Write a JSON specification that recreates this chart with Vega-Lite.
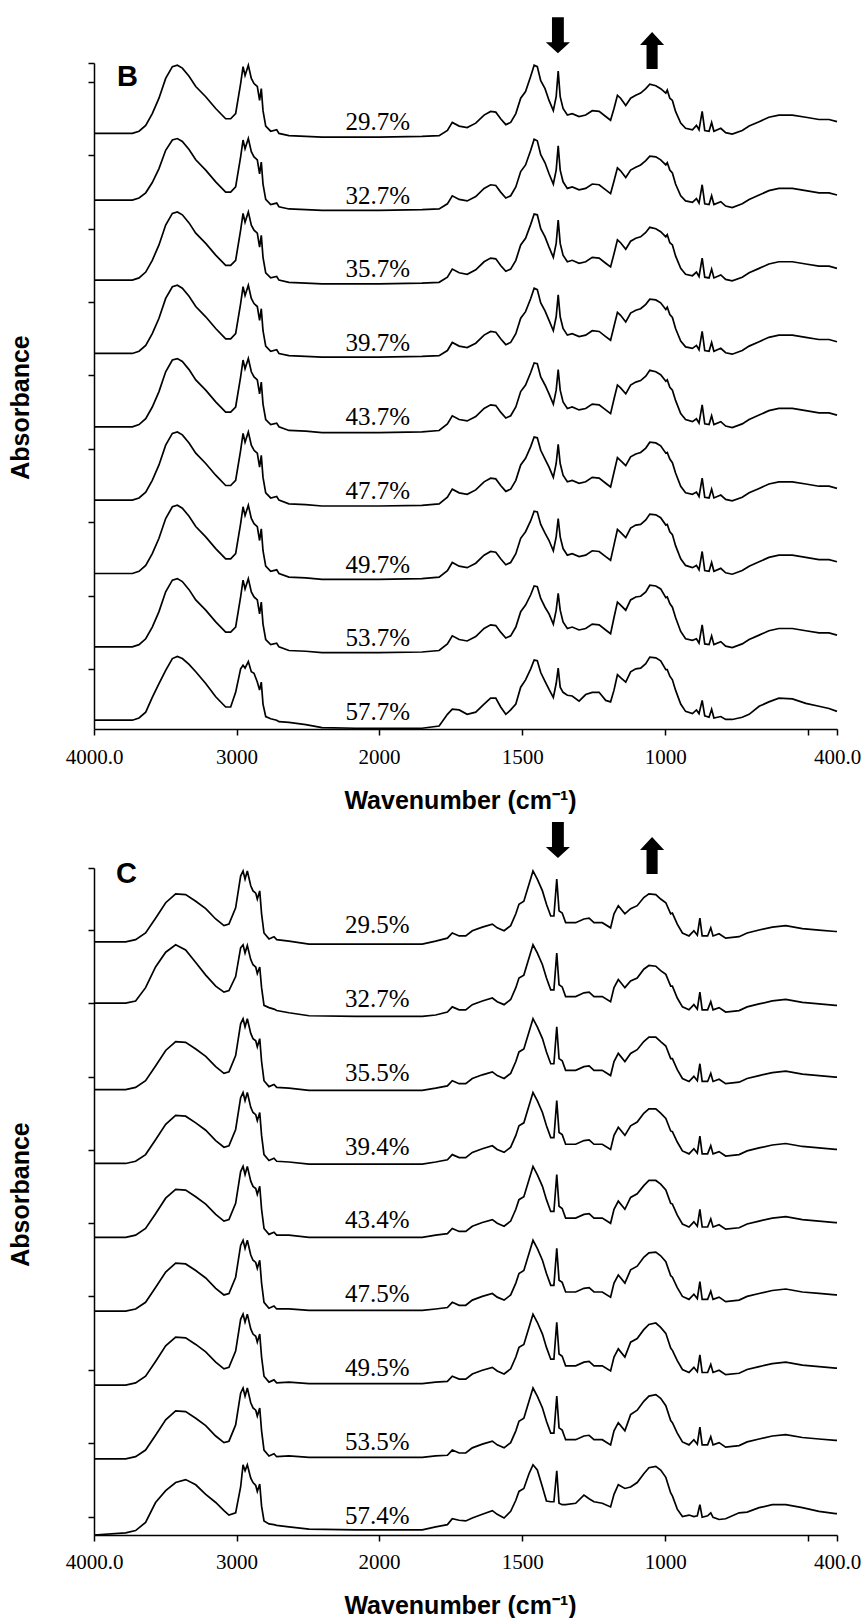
{
"$schema":"https://vega.github.io/schema/vega-lite/v6.json",
"background":"white",
"padding":{"left":8,"top":17,"right":0,"bottom":0},
"spacing":139,
"bounds":"flush",
"config":{"view":{"stroke":null},"axis":{"domainColor":"black","tickColor":"black","domainWidth":1.5,"tickWidth":1.5,"labelColor":"black","titleColor":"black","grid":false}},
"datasets":{
"specB":[
{"x":4000,"s1":800,"s2":709,"s3":600,"s4":500,"s5":400,"s6":300,"s7":200,"s8":100,"s9":0},
{"x":3731,"s1":800,"s2":709,"s3":600,"s4":500,"s5":400,"s6":300,"s7":200,"s8":100,"s9":0},
{"x":3684,"s1":803,"s2":712,"s3":603,"s4":503,"s5":403,"s6":303,"s7":203,"s8":103,"s9":3},
{"x":3637,"s1":811,"s2":719,"s3":611,"s4":511,"s5":411,"s6":311,"s7":211,"s8":111,"s9":11},
{"x":3591,"s1":827,"s2":733,"s3":627,"s4":527,"s5":427,"s6":327,"s7":227,"s8":127,"s9":31},
{"x":3544,"s1":848,"s2":752,"s3":648,"s4":548,"s5":448,"s6":348,"s7":248,"s8":148,"s9":50},
{"x":3497,"s1":875,"s2":777,"s3":675,"s4":575,"s5":475,"s6":375,"s7":275,"s8":175,"s9":68},
{"x":3450,"s1":891,"s2":791,"s3":691,"s4":591,"s5":491,"s6":391,"s7":291,"s8":191,"s9":84},
{"x":3415,"s1":893,"s2":793,"s3":693,"s4":593,"s5":493,"s6":393,"s7":293,"s8":193,"s9":87},
{"x":3380,"s1":889,"s2":789,"s3":689,"s4":589,"s5":489,"s6":389,"s7":289,"s8":189,"s9":84},
{"x":3333,"s1":878,"s2":778,"s3":678,"s4":578,"s5":478,"s6":378,"s7":278,"s8":178,"s9":76},
{"x":3286,"s1":864,"s2":764,"s3":664,"s4":564,"s5":464,"s6":364,"s7":264,"s8":164,"s9":66},
{"x":3216,"s1":850,"s2":750,"s3":650,"s4":550,"s5":450,"s6":350,"s7":250,"s8":150,"s9":50},
{"x":3146,"s1":834,"s2":734,"s3":634,"s4":534,"s5":434,"s6":334,"s7":234,"s8":134,"s9":32},
{"x":3076,"s1":820,"s2":720,"s3":620,"s4":520,"s5":420,"s6":320,"s7":220,"s8":120,"s9":18},
{"x":3041,"s1":820,"s2":720,"s3":620,"s4":520,"s5":420,"s6":320,"s7":220,"s8":120,"s9":18},
{"x":3006,"s1":827,"s2":727,"s3":627,"s4":527,"s5":427,"s6":327,"s7":227,"s8":127,"s9":38},
{"x":2971,"s1":868,"s2":768,"s3":668,"s4":568,"s5":468,"s6":368,"s7":268,"s8":168,"s9":70},
{"x":2954,"s1":891,"s2":791,"s3":691,"s4":591,"s5":491,"s6":391,"s7":291,"s8":191,"s9":75},
{"x":2940,"s1":879,"s2":779,"s3":679,"s4":579,"s5":479,"s6":379,"s7":279,"s8":179,"s9":71},
{"x":2917,"s1":893,"s2":793,"s3":693,"s4":593,"s5":493,"s6":393,"s7":293,"s8":193,"s9":80},
{"x":2896,"s1":875,"s2":775,"s3":675,"s4":575,"s5":475,"s6":375,"s7":275,"s8":175,"s9":66},
{"x":2877,"s1":868,"s2":768,"s3":668,"s4":568,"s5":468,"s6":368,"s7":268,"s8":168,"s9":64},
{"x":2854,"s1":864,"s2":764,"s3":664,"s4":564,"s5":464,"s6":364,"s7":264,"s8":164,"s9":52},
{"x":2838,"s1":845,"s2":745,"s3":645,"s4":545,"s5":445,"s6":345,"s7":245,"s8":145,"s9":41},
{"x":2826,"s1":861,"s2":761,"s3":661,"s4":561,"s5":461,"s6":361,"s7":261,"s8":161,"s9":52},
{"x":2814,"s1":831,"s2":731,"s3":631,"s4":531,"s5":431,"s6":331,"s7":231,"s8":131,"s9":22},
{"x":2795,"s1":810,"s2":710,"s3":610,"s4":510,"s5":410,"s6":310,"s7":210,"s8":110,"s9":5},
{"x":2760,"s1":803,"s2":703,"s3":603,"s4":503,"s5":403,"s6":303,"s7":203,"s8":103,"s9":2},
{"x":2718,"s1":805,"s2":705,"s3":605,"s4":505,"s5":405,"s6":305,"s7":205,"s8":105,"s9":0},
{"x":2702,"s1":800,"s2":700,"s3":600,"s4":500,"s5":400,"s6":300,"s7":200,"s8":100,"s9":-2},
{"x":2632,"s1":797,"s2":697,"s3":597,"s4":497,"s5":395,"s6":295,"s7":195,"s8":95,"s9":-3},
{"x":2514,"s1":796,"s2":696,"s3":596,"s4":496,"s5":394,"s6":294,"s7":194,"s8":94,"s9":-6},
{"x":2400,"s1":795,"s2":695,"s3":595,"s4":495,"s5":392,"s6":292,"s7":192,"s8":92,"s9":-10},
{"x":2163,"s1":795,"s2":695,"s3":595,"s4":495,"s5":392,"s6":292,"s7":192,"s8":92,"s9":-11},
{"x":2000,"s1":795,"s2":695,"s3":595,"s4":495,"s5":392,"s6":292,"s7":192,"s8":92,"s9":-11},
{"x":1850,"s1":796,"s2":696,"s3":596,"s4":496,"s5":393,"s6":293,"s7":193,"s8":93,"s9":-11},
{"x":1790,"s1":797,"s2":697,"s3":597,"s4":497,"s5":395,"s6":295,"s7":195,"s8":95,"s9":-8},
{"x":1761,"s1":804,"s2":704,"s3":604,"s4":504,"s5":404,"s6":304,"s7":204,"s8":104,"s9":8},
{"x":1744,"s1":815,"s2":715,"s3":615,"s4":515,"s5":415,"s6":315,"s7":215,"s8":115,"s9":15},
{"x":1720,"s1":810,"s2":710,"s3":610,"s4":510,"s5":410,"s6":310,"s7":210,"s8":110,"s9":14},
{"x":1692,"s1":808,"s2":708,"s3":608,"s4":508,"s5":408,"s6":308,"s7":208,"s8":108,"s9":8},
{"x":1662,"s1":814,"s2":714,"s3":614,"s4":514,"s5":414,"s6":314,"s7":214,"s8":114,"s9":11},
{"x":1633,"s1":825,"s2":725,"s3":625,"s4":525,"s5":425,"s6":325,"s7":225,"s8":125,"s9":22},
{"x":1610,"s1":830,"s2":730,"s3":630,"s4":530,"s5":430,"s6":330,"s7":230,"s8":130,"s9":30},
{"x":1592,"s1":829,"s2":729,"s3":629,"s4":529,"s5":429,"s6":329,"s7":229,"s8":129,"s9":30},
{"x":1575,"s1":820,"s2":720,"s3":620,"s4":520,"s5":420,"s6":320,"s7":220,"s8":120,"s9":18},
{"x":1557,"s1":812,"s2":712,"s3":612,"s4":512,"s5":412,"s6":312,"s7":212,"s8":112,"s9":8},
{"x":1540,"s1":815,"s2":715,"s3":615,"s4":515,"s5":415,"s6":315,"s7":215,"s8":115,"s9":14},
{"x":1522,"s1":827,"s2":727,"s3":627,"s4":527,"s5":427,"s6":327,"s7":227,"s8":127,"s9":22},
{"x":1505,"s1":848,"s2":748,"s3":648,"s4":548,"s5":448,"s6":348,"s7":248,"s8":148,"s9":45},
{"x":1488,"s1":857,"s2":757,"s3":657,"s4":557,"s5":457,"s6":357,"s7":257,"s8":157,"s9":55},
{"x":1470,"s1":878,"s2":777,"s3":676,"s4":575,"s5":474,"s6":373,"s7":272,"s8":171,"s9":70},
{"x":1458,"s1":893,"s2":792,"s3":690,"s4":589,"s5":487,"s6":386,"s7":285,"s8":183,"s9":82},
{"x":1447,"s1":891,"s2":790,"s3":689,"s4":587,"s5":486,"s6":385,"s7":284,"s8":182,"s9":81},
{"x":1435,"s1":872,"s2":771,"s3":670,"s4":569,"s5":468,"s6":368,"s7":267,"s8":166,"s9":65},
{"x":1420,"s1":861,"s2":760,"s3":659,"s4":558,"s5":457,"s6":356,"s7":255,"s8":154,"s9":53},
{"x":1406,"s1":845,"s2":745,"s3":645,"s4":545,"s5":445,"s6":345,"s7":245,"s8":145,"s9":42},
{"x":1391,"s1":831,"s2":731,"s3":631,"s4":531,"s5":431,"s6":331,"s7":231,"s8":131,"s9":31},
{"x":1381,"s1":850,"s2":750,"s3":650,"s4":550,"s5":450,"s6":350,"s7":250,"s8":150,"s9":50},
{"x":1374,"s1":885,"s2":783,"s3":682,"s4":580,"s5":478,"s6":376,"s7":275,"s8":173,"s9":71},
{"x":1367,"s1":850,"s2":750,"s3":650,"s4":550,"s5":450,"s6":350,"s7":250,"s8":150,"s9":45},
{"x":1357,"s1":834,"s2":734,"s3":634,"s4":534,"s5":434,"s6":334,"s7":234,"s8":134,"s9":38},
{"x":1342,"s1":825,"s2":725,"s3":625,"s4":525,"s5":425,"s6":325,"s7":225,"s8":125,"s9":34},
{"x":1325,"s1":827,"s2":727,"s3":627,"s4":527,"s5":427,"s6":327,"s7":227,"s8":127,"s9":33},
{"x":1301,"s1":823,"s2":723,"s3":623,"s4":523,"s5":423,"s6":323,"s7":223,"s8":123,"s9":26},
{"x":1278,"s1":825,"s2":725,"s3":625,"s4":525,"s5":425,"s6":325,"s7":225,"s8":125,"s9":35},
{"x":1255,"s1":831,"s2":731,"s3":631,"s4":531,"s5":431,"s6":331,"s7":231,"s8":131,"s9":38},
{"x":1231,"s1":830,"s2":730,"s3":630,"s4":530,"s5":430,"s6":330,"s7":230,"s8":130,"s9":38},
{"x":1208,"s1":823,"s2":723,"s3":623,"s4":523,"s5":423,"s6":323,"s7":223,"s8":123,"s9":27},
{"x":1191,"s1":818,"s2":718,"s3":618,"s4":518,"s5":418,"s6":318,"s7":218,"s8":118,"s9":25},
{"x":1179,"s1":834,"s2":735,"s3":636,"s4":537,"s5":438,"s6":338,"s7":239,"s8":140,"s9":41},
{"x":1167,"s1":852,"s2":753,"s3":655,"s4":556,"s5":457,"s6":358,"s7":260,"s8":161,"s9":62},
{"x":1156,"s1":848,"s2":749,"s3":651,"s4":552,"s5":453,"s6":354,"s7":256,"s8":157,"s9":58},
{"x":1138,"s1":838,"s2":740,"s3":642,"s4":543,"s5":445,"s6":347,"s7":249,"s8":150,"s9":52},
{"x":1121,"s1":848,"s2":750,"s3":653,"s4":555,"s5":457,"s6":359,"s7":262,"s8":164,"s9":66},
{"x":1103,"s1":852,"s2":754,"s3":657,"s4":559,"s5":461,"s6":363,"s7":266,"s8":168,"s9":70},
{"x":1086,"s1":855,"s2":757,"s3":659,"s4":561,"s5":463,"s6":365,"s7":267,"s8":169,"s9":71},
{"x":1068,"s1":861,"s2":763,"s3":665,"s4":567,"s5":469,"s6":371,"s7":273,"s8":175,"s9":77},
{"x":1054,"s1":867,"s2":769,"s3":672,"s4":574,"s5":477,"s6":379,"s7":281,"s8":184,"s9":86},
{"x":1033,"s1":865,"s2":768,"s3":670,"s4":573,"s5":475,"s6":378,"s7":280,"s8":183,"s9":85},
{"x":1016,"s1":861,"s2":764,"s3":666,"s4":569,"s5":471,"s6":374,"s7":276,"s8":179,"s9":81},
{"x":998,"s1":855,"s2":757,"s3":659,"s4":560,"s5":462,"s6":364,"s7":266,"s8":167,"s9":69},
{"x":993,"s1":859,"s2":760,"s3":662,"s4":563,"s5":464,"s6":365,"s7":267,"s8":168,"s9":69},
{"x":984,"s1":848,"s2":750,"s3":651,"s4":553,"s5":454,"s6":356,"s7":257,"s8":159,"s9":60},
{"x":975,"s1":845,"s2":746,"s3":648,"s4":549,"s5":450,"s6":351,"s7":253,"s8":154,"s9":55},
{"x":964,"s1":830,"s2":731,"s3":633,"s4":534,"s5":436,"s6":337,"s7":238,"s8":140,"s9":41},
{"x":946,"s1":814,"s2":715,"s3":616,"s4":517,"s5":418,"s6":319,"s7":220,"s8":121,"s9":22},
{"x":929,"s1":807,"s2":708,"s3":608,"s4":509,"s5":410,"s6":310,"s7":211,"s8":111,"s9":12},
{"x":905,"s1":805,"s2":706,"s3":606,"s4":507,"s5":407,"s6":308,"s7":208,"s8":109,"s9":9},
{"x":891,"s1":811,"s2":711,"s3":611,"s4":511,"s5":411,"s6":311,"s7":211,"s8":111,"s9":14},
{"x":882,"s1":805,"s2":705,"s3":605,"s4":505,"s5":405,"s6":305,"s7":205,"s8":105,"s9":9},
{"x":871,"s1":830,"s2":730,"s3":630,"s4":530,"s5":430,"s6":330,"s7":230,"s8":130,"s9":27},
{"x":862,"s1":804,"s2":704,"s3":604,"s4":504,"s5":404,"s6":304,"s7":204,"s8":104,"s9":6},
{"x":847,"s1":803,"s2":703,"s3":603,"s4":503,"s5":403,"s6":303,"s7":203,"s8":103,"s9":4},
{"x":838,"s1":815,"s2":715,"s3":615,"s4":515,"s5":415,"s6":315,"s7":215,"s8":115,"s9":15},
{"x":830,"s1":803,"s2":703,"s3":603,"s4":503,"s5":403,"s6":303,"s7":203,"s8":103,"s9":3},
{"x":806,"s1":807,"s2":707,"s3":607,"s4":507,"s5":407,"s6":307,"s7":207,"s8":107,"s9":5},
{"x":789,"s1":801,"s2":701,"s3":601,"s4":501,"s5":401,"s6":301,"s7":201,"s8":101,"s9":1},
{"x":766,"s1":799,"s2":699,"s3":599,"s4":499,"s5":399,"s6":299,"s7":199,"s8":99,"s9":1},
{"x":731,"s1":804,"s2":704,"s3":604,"s4":504,"s5":404,"s6":304,"s7":204,"s8":104,"s9":4},
{"x":707,"s1":810,"s2":710,"s3":610,"s4":510,"s5":410,"s6":310,"s7":210,"s8":110,"s9":8},
{"x":672,"s1":816,"s2":716,"s3":616,"s4":516,"s5":416,"s6":316,"s7":216,"s8":116,"s9":19},
{"x":638,"s1":822,"s2":722,"s3":622,"s4":522,"s5":422,"s6":322,"s7":222,"s8":122,"s9":25},
{"x":603,"s1":825,"s2":725,"s3":625,"s4":525,"s5":425,"s6":325,"s7":225,"s8":125,"s9":30},
{"x":556,"s1":825,"s2":725,"s3":625,"s4":525,"s5":425,"s6":325,"s7":225,"s8":125,"s9":29},
{"x":509,"s1":822,"s2":722,"s3":622,"s4":522,"s5":422,"s6":322,"s7":222,"s8":122,"s9":23},
{"x":463,"s1":819,"s2":719,"s3":619,"s4":519,"s5":419,"s6":319,"s7":219,"s8":119,"s9":19},
{"x":428,"s1":819,"s2":719,"s3":619,"s4":519,"s5":419,"s6":319,"s7":219,"s8":119,"s9":16},
{"x":400,"s1":816,"s2":716,"s3":616,"s4":516,"s5":416,"s6":316,"s7":216,"s8":116,"s9":12}
],
"specC":[
{"x":4000,"s1":800,"s2":717,"s3":600,"s4":500,"s5":400,"s6":300,"s7":200,"s8":100,"s9":-3},
{"x":3778,"s1":800,"s2":717,"s3":600,"s4":500,"s5":400,"s6":300,"s7":200,"s8":100,"s9":0},
{"x":3708,"s1":803,"s2":720,"s3":603,"s4":503,"s5":403,"s6":303,"s7":203,"s8":103,"s9":3},
{"x":3638,"s1":812,"s2":738,"s3":612,"s4":512,"s5":412,"s6":312,"s7":212,"s8":112,"s9":14},
{"x":3568,"s1":832,"s2":766,"s3":632,"s4":532,"s5":432,"s6":332,"s7":232,"s8":132,"s9":41},
{"x":3497,"s1":853,"s2":786,"s3":653,"s4":553,"s5":453,"s6":353,"s7":253,"s8":153,"s9":57},
{"x":3427,"s1":865,"s2":796,"s3":665,"s4":565,"s5":465,"s6":365,"s7":265,"s8":165,"s9":68},
{"x":3357,"s1":864,"s2":789,"s3":664,"s4":564,"s5":464,"s6":364,"s7":264,"s8":164,"s9":72},
{"x":3286,"s1":855,"s2":772,"s3":655,"s4":555,"s5":455,"s6":355,"s7":255,"s8":155,"s9":65},
{"x":3216,"s1":845,"s2":755,"s3":645,"s4":545,"s5":445,"s6":345,"s7":245,"s8":145,"s9":52},
{"x":3146,"s1":831,"s2":740,"s3":631,"s4":531,"s5":431,"s6":331,"s7":231,"s8":131,"s9":41},
{"x":3088,"s1":822,"s2":732,"s3":622,"s4":522,"s5":422,"s6":322,"s7":222,"s8":122,"s9":30},
{"x":3053,"s1":824,"s2":734,"s3":624,"s4":524,"s5":424,"s6":324,"s7":224,"s8":124,"s9":24},
{"x":3006,"s1":846,"s2":753,"s3":646,"s4":546,"s5":446,"s6":346,"s7":246,"s8":146,"s9":27},
{"x":2971,"s1":889,"s2":792,"s3":689,"s4":589,"s5":489,"s6":389,"s7":289,"s8":189,"s9":62},
{"x":2954,"s1":896,"s2":796,"s3":696,"s4":596,"s5":496,"s6":396,"s7":296,"s8":196,"s9":92},
{"x":2940,"s1":885,"s2":785,"s3":685,"s4":585,"s5":485,"s6":385,"s7":285,"s8":185,"s9":84},
{"x":2924,"s1":896,"s2":795,"s3":696,"s4":596,"s5":496,"s6":396,"s7":296,"s8":196,"s9":92},
{"x":2900,"s1":876,"s2":776,"s3":676,"s4":576,"s5":476,"s6":376,"s7":276,"s8":176,"s9":74},
{"x":2884,"s1":869,"s2":769,"s3":669,"s4":569,"s5":469,"s6":369,"s7":269,"s8":169,"s9":68},
{"x":2865,"s1":866,"s2":766,"s3":666,"s4":566,"s5":466,"s6":366,"s7":266,"s8":166,"s9":64},
{"x":2854,"s1":858,"s2":757,"s3":658,"s4":558,"s5":458,"s6":358,"s7":258,"s8":158,"s9":56},
{"x":2837,"s1":869,"s2":766,"s3":669,"s4":569,"s5":469,"s6":369,"s7":269,"s8":169,"s9":66},
{"x":2824,"s1":838,"s2":738,"s3":638,"s4":538,"s5":438,"s6":338,"s7":238,"s8":138,"s9":36},
{"x":2807,"s1":812,"s2":714,"s3":612,"s4":512,"s5":412,"s6":312,"s7":212,"s8":112,"s9":16},
{"x":2772,"s1":804,"s2":711,"s3":604,"s4":504,"s5":404,"s6":304,"s7":204,"s8":104,"s9":12},
{"x":2737,"s1":807,"s2":709,"s3":607,"s4":507,"s5":407,"s6":307,"s7":207,"s8":107,"s9":11},
{"x":2718,"s1":803,"s2":707,"s3":603,"s4":503,"s5":403,"s6":303,"s7":203,"s8":103,"s9":10},
{"x":2632,"s1":801,"s2":704,"s3":602,"s4":502,"s5":403,"s6":303,"s7":204,"s8":104,"s9":8},
{"x":2491,"s1":797,"s2":700,"s3":599,"s4":499,"s5":400,"s6":301,"s7":202,"s8":102,"s9":5},
{"x":2163,"s1":797,"s2":699,"s3":599,"s4":499,"s5":400,"s6":301,"s7":202,"s8":102,"s9":4},
{"x":1849,"s1":797,"s2":699,"s3":599,"s4":499,"s5":400,"s6":301,"s7":202,"s8":102,"s9":4},
{"x":1802,"s1":801,"s2":701,"s3":602,"s4":502,"s5":403,"s6":303,"s7":204,"s8":104,"s9":8},
{"x":1761,"s1":805,"s2":705,"s3":605,"s4":505,"s5":405,"s6":305,"s7":205,"s8":105,"s9":11},
{"x":1744,"s1":812,"s2":712,"s3":612,"s4":512,"s5":412,"s6":312,"s7":212,"s8":112,"s9":19},
{"x":1720,"s1":808,"s2":708,"s3":608,"s4":508,"s5":408,"s6":308,"s7":208,"s8":108,"s9":17},
{"x":1697,"s1":808,"s2":708,"s3":608,"s4":508,"s5":408,"s6":308,"s7":208,"s8":108,"s9":16},
{"x":1674,"s1":815,"s2":715,"s3":615,"s4":515,"s5":415,"s6":315,"s7":215,"s8":115,"s9":20},
{"x":1639,"s1":820,"s2":720,"s3":620,"s4":520,"s5":420,"s6":320,"s7":220,"s8":120,"s9":25},
{"x":1604,"s1":824,"s2":724,"s3":624,"s4":524,"s5":424,"s6":324,"s7":224,"s8":124,"s9":30},
{"x":1587,"s1":819,"s2":719,"s3":619,"s4":519,"s5":419,"s6":319,"s7":219,"s8":119,"s9":25},
{"x":1563,"s1":815,"s2":715,"s3":615,"s4":515,"s5":415,"s6":315,"s7":215,"s8":115,"s9":20},
{"x":1540,"s1":822,"s2":722,"s3":622,"s4":522,"s5":422,"s6":322,"s7":222,"s8":122,"s9":29},
{"x":1522,"s1":838,"s2":738,"s3":638,"s4":538,"s5":438,"s6":338,"s7":238,"s8":138,"s9":44},
{"x":1511,"s1":851,"s2":751,"s3":651,"s4":551,"s5":451,"s6":351,"s7":251,"s8":151,"s9":56},
{"x":1494,"s1":855,"s2":755,"s3":655,"s4":555,"s5":455,"s6":355,"s7":255,"s8":155,"s9":60},
{"x":1476,"s1":878,"s2":778,"s3":678,"s4":578,"s5":478,"s6":378,"s7":278,"s8":178,"s9":80},
{"x":1462,"s1":896,"s2":796,"s3":696,"s4":596,"s5":496,"s6":396,"s7":296,"s8":196,"s9":92},
{"x":1447,"s1":885,"s2":785,"s3":685,"s4":585,"s5":485,"s6":385,"s7":285,"s8":185,"s9":85},
{"x":1429,"s1":869,"s2":769,"s3":669,"s4":569,"s5":469,"s6":369,"s7":269,"s8":169,"s9":62},
{"x":1415,"s1":851,"s2":751,"s3":651,"s4":551,"s5":451,"s6":351,"s7":251,"s8":151,"s9":43},
{"x":1400,"s1":835,"s2":735,"s3":635,"s4":535,"s5":435,"s6":335,"s7":235,"s8":135,"s9":42},
{"x":1389,"s1":835,"s2":735,"s3":635,"s4":535,"s5":435,"s6":335,"s7":235,"s8":135,"s9":42},
{"x":1379,"s1":885,"s2":785,"s3":685,"s4":585,"s5":485,"s6":385,"s7":285,"s8":185,"s9":84},
{"x":1371,"s1":842,"s2":742,"s3":642,"s4":542,"s5":442,"s6":342,"s7":242,"s8":142,"s9":40},
{"x":1360,"s1":839,"s2":739,"s3":639,"s4":539,"s5":439,"s6":339,"s7":239,"s8":139,"s9":38},
{"x":1348,"s1":826,"s2":726,"s3":626,"s4":526,"s5":426,"s6":326,"s7":226,"s8":126,"s9":38},
{"x":1313,"s1":826,"s2":726,"s3":626,"s4":526,"s5":426,"s6":326,"s7":226,"s8":126,"s9":40},
{"x":1284,"s1":831,"s2":731,"s3":631,"s4":531,"s5":431,"s6":331,"s7":231,"s8":131,"s9":51},
{"x":1266,"s1":832,"s2":732,"s3":632,"s4":532,"s5":432,"s6":332,"s7":232,"s8":132,"s9":46},
{"x":1249,"s1":826,"s2":726,"s3":626,"s4":526,"s5":426,"s6":326,"s7":226,"s8":126,"s9":42},
{"x":1220,"s1":826,"s2":726,"s3":626,"s4":526,"s5":426,"s6":326,"s7":226,"s8":126,"s9":40},
{"x":1191,"s1":819,"s2":719,"s3":619,"s4":519,"s5":419,"s6":319,"s7":219,"s8":119,"s9":35},
{"x":1179,"s1":838,"s2":738,"s3":638,"s4":538,"s5":438,"s6":338,"s7":238,"s8":138,"s9":52},
{"x":1164,"s1":849,"s2":749,"s3":649,"s4":549,"s5":449,"s6":349,"s7":249,"s8":149,"s9":65},
{"x":1141,"s1":838,"s2":738,"s3":638,"s4":538,"s5":438,"s6":338,"s7":238,"s8":138,"s9":60},
{"x":1121,"s1":845,"s2":747,"s3":649,"s4":551,"s5":454,"s6":356,"s7":258,"s8":160,"s9":62},
{"x":1098,"s1":849,"s2":751,"s3":654,"s4":556,"s5":459,"s6":361,"s7":263,"s8":166,"s9":68},
{"x":1075,"s1":860,"s2":763,"s3":665,"s4":568,"s5":470,"s6":373,"s7":275,"s8":178,"s9":80},
{"x":1057,"s1":865,"s2":768,"s3":671,"s4":574,"s5":477,"s6":379,"s7":282,"s8":185,"s9":88},
{"x":1033,"s1":864,"s2":767,"s3":671,"s4":574,"s5":477,"s6":380,"s7":284,"s8":187,"s9":90},
{"x":1016,"s1":858,"s2":761,"s3":665,"s4":568,"s5":472,"s6":375,"s7":278,"s8":182,"s9":85},
{"x":998,"s1":853,"s2":756,"s3":659,"s4":561,"s5":464,"s6":367,"s7":270,"s8":172,"s9":75},
{"x":981,"s1":838,"s2":740,"s3":642,"s4":544,"s5":446,"s6":348,"s7":250,"s8":152,"s9":54},
{"x":975,"s1":839,"s2":740,"s3":642,"s4":543,"s5":445,"s6":346,"s7":247,"s8":149,"s9":50},
{"x":958,"s1":824,"s2":724,"s3":627,"s4":529,"s5":430,"s6":332,"s7":233,"s8":135,"s9":32},
{"x":940,"s1":812,"s2":712,"s3":615,"s4":517,"s5":418,"s6":320,"s7":221,"s8":123,"s9":22},
{"x":917,"s1":808,"s2":708,"s3":611,"s4":513,"s5":414,"s6":316,"s7":217,"s8":119,"s9":24},
{"x":900,"s1":815,"s2":715,"s3":618,"s4":520,"s5":421,"s6":323,"s7":224,"s8":126,"s9":22},
{"x":888,"s1":809,"s2":709,"s3":612,"s4":514,"s5":415,"s6":317,"s7":218,"s8":120,"s9":23},
{"x":879,"s1":832,"s2":732,"s3":635,"s4":537,"s5":438,"s6":340,"s7":241,"s8":143,"s9":38},
{"x":871,"s1":808,"s2":708,"s3":611,"s4":513,"s5":414,"s6":316,"s7":217,"s8":119,"s9":21},
{"x":852,"s1":808,"s2":708,"s3":611,"s4":513,"s5":414,"s6":316,"s7":217,"s8":119,"s9":23},
{"x":841,"s1":819,"s2":719,"s3":622,"s4":524,"s5":425,"s6":327,"s7":228,"s8":130,"s9":27},
{"x":833,"s1":808,"s2":708,"s3":611,"s4":513,"s5":414,"s6":316,"s7":217,"s8":119,"s9":21},
{"x":812,"s1":811,"s2":711,"s3":614,"s4":516,"s5":417,"s6":319,"s7":220,"s8":122,"s9":18},
{"x":789,"s1":805,"s2":705,"s3":608,"s4":510,"s5":411,"s6":313,"s7":214,"s8":116,"s9":19},
{"x":742,"s1":807,"s2":707,"s3":610,"s4":512,"s5":413,"s6":315,"s7":216,"s8":118,"s9":27},
{"x":714,"s1":812,"s2":712,"s3":615,"s4":517,"s5":418,"s6":320,"s7":221,"s8":123,"s9":28},
{"x":672,"s1":816,"s2":716,"s3":619,"s4":521,"s5":422,"s6":324,"s7":225,"s8":127,"s9":34},
{"x":626,"s1":820,"s2":720,"s3":623,"s4":525,"s5":426,"s6":328,"s7":229,"s8":131,"s9":38},
{"x":579,"s1":822,"s2":722,"s3":625,"s4":527,"s5":428,"s6":330,"s7":231,"s8":133,"s9":38},
{"x":521,"s1":818,"s2":718,"s3":621,"s4":523,"s5":424,"s6":326,"s7":227,"s8":129,"s9":34},
{"x":463,"s1":816,"s2":716,"s3":619,"s4":521,"s5":422,"s6":324,"s7":225,"s8":127,"s9":29},
{"x":405,"s1":814,"s2":714,"s3":617,"s4":519,"s5":420,"s6":322,"s7":223,"s8":125,"s9":26},
{"x":400,"s1":814,"s2":714,"s3":617,"s4":519,"s5":420,"s6":322,"s7":223,"s8":125,"s9":26}
],
"labB":[
{"x":2008,"v":805,"t":"29.7%"},{"x":2008,"v":704,"t":"32.7%"},{"x":2008,"v":604,"t":"35.7%"},
{"x":2008,"v":503,"t":"39.7%"},{"x":2008,"v":403,"t":"43.7%"},{"x":2008,"v":302,"t":"47.7%"},
{"x":2008,"v":201,"t":"49.7%"},{"x":2008,"v":101,"t":"53.7%"},{"x":2008,"v":0,"t":"57.7%"}
],
"labC":[
{"x":2012,"v":812,"t":"29.5%"},{"x":2012,"v":712,"t":"32.7%"},{"x":2012,"v":612,"t":"35.5%"},
{"x":2012,"v":512,"t":"39.4%"},{"x":2012,"v":412,"t":"43.4%"},{"x":2012,"v":312,"t":"47.5%"},
{"x":2012,"v":212,"t":"49.5%"},{"x":2012,"v":112,"t":"53.5%"},{"x":2012,"v":12,"t":"57.4%"}
]
},
"vconcat":[
{
"width":743,"height":666,
"layer":[
{"data":{"name":"specB"},
 "transform":[{"fold":["s1","s2","s3","s4","s5","s6","s7","s8","s9"],"as":["k","v"]}],
 "mark":{"type":"line","color":"black","strokeWidth":1.7},
 "encoding":{
  "x":{"field":"x","type":"quantitative","scale":{"domain":[4000,2000,400],"range":[0,285,743],"nice":false,"zero":false},
   "axis":{"values":[4000,3000,2000,1500,1000,500,400],"labelExpr":"datum.value == 4000 ? '4000.0' : datum.value == 400 ? '400.0' : datum.value == 500 ? '' : format(datum.value, 'd')","labelFont":"Liberation Serif","labelFontSize":21,"labelFlush":false,"labelOverlap":false,"labelBaseline":"alphabetic","labelPadding":28,"tickSize":6,
    "title":"Wavenumber (cm⁻¹)","titleFont":"Liberation Sans","titleFontWeight":"bold","titleFontSize":25,"titleX":366,"titleY":79,"titleAlign":"center","titleBaseline":"alphabetic"}},
  "y":{"field":"v","type":"quantitative","scale":{"domain":[-12,896],"nice":false,"zero":false},
   "axis":{"values":[896,870,770,670,570,470,370,270,170,70],"labels":false,"tickSize":6,"title":"Absorbance","titleFont":"Liberation Sans","titleFontWeight":"bold","titleFontSize":25,"titleX":-74,"titleY":344,"titleAngle":270,"titleAlign":"center","titleBaseline":"middle"}},
  "detail":{"field":"k","type":"nominal"}
 }},
{"data":{"name":"labB"},
 "mark":{"type":"text","font":"Liberation Serif","fontSize":25,"align":"center","baseline":"alphabetic","color":"black"},
 "encoding":{"x":{"field":"x","type":"quantitative"},"y":{"field":"v","type":"quantitative"},"text":{"field":"t"}}},
{"data":{"values":[{"x":3839,"v":864,"t":"B"}]},
 "mark":{"type":"text","font":"Liberation Sans","fontWeight":"bold","fontSize":29,"align":"left","baseline":"alphabetic","color":"black"},
 "encoding":{"x":{"field":"x","type":"quantitative"},"y":{"field":"v","type":"quantitative"},"text":{"field":"t"}}},
{"data":{"values":[{"x":1375,"v":934}]},
 "mark":{"type":"point","shape":"M-0.33,-1L0.33,-1L0.33,0.39L0.67,0.39L0,1L-0.67,0.39L-0.33,0.39Z","size":1296,"filled":true,"color":"black","opacity":1},
 "encoding":{"x":{"field":"x","type":"quantitative"},"y":{"field":"v","type":"quantitative"}}},
{"data":{"values":[{"x":1046,"v":913}]},
 "mark":{"type":"point","shape":"M0,-1L0.65,-0.3L0.3,-0.3L0.3,1L-0.3,1L-0.3,-0.3L-0.65,-0.3Z","size":1369,"filled":true,"color":"black","opacity":1},
 "encoding":{"x":{"field":"x","type":"quantitative"},"y":{"field":"v","type":"quantitative"}}}
]
},
{
"width":743,"height":667,
"layer":[
{"data":{"name":"specC"},
 "transform":[{"fold":["s1","s2","s3","s4","s5","s6","s7","s8","s9"],"as":["k","v"]}],
 "mark":{"type":"line","color":"black","strokeWidth":1.7},
 "encoding":{
  "x":{"field":"x","type":"quantitative","scale":{"domain":[4000,2000,400],"range":[0,285,743],"nice":false,"zero":false},
   "axis":{"values":[4000,3000,2000,1500,1000,500,400],"labelExpr":"datum.value == 4000 ? '4000.0' : datum.value == 400 ? '400.0' : datum.value == 500 ? '' : format(datum.value, 'd')","labelFont":"Liberation Serif","labelFontSize":21,"labelFlush":false,"labelOverlap":false,"labelBaseline":"alphabetic","labelPadding":27,"tickSize":6,
    "title":"Wavenumber (cm⁻¹)","titleFont":"Liberation Sans","titleFontWeight":"bold","titleFontSize":25,"titleX":366,"titleY":78,"titleAlign":"center","titleBaseline":"alphabetic"}},
  "y":{"field":"v","type":"quantitative","scale":{"domain":[-3,900],"nice":false,"zero":false},
   "axis":{"values":[900,816,717,617,518,419,320,221,121,22],"labels":false,"tickSize":6,"title":"Absorbance","titleFont":"Liberation Sans","titleFontWeight":"bold","titleFontSize":25,"titleX":-74,"titleY":326,"titleAngle":270,"titleAlign":"center","titleBaseline":"middle"}},
  "detail":{"field":"k","type":"nominal"}
 }},
{"data":{"name":"labC"},
 "mark":{"type":"text","font":"Liberation Serif","fontSize":25,"align":"center","baseline":"alphabetic","color":"black"},
 "encoding":{"x":{"field":"x","type":"quantitative"},"y":{"field":"v","type":"quantitative"},"text":{"field":"t"}}},
{"data":{"values":[{"x":3846,"v":880,"t":"C"}]},
 "mark":{"type":"text","font":"Liberation Sans","fontWeight":"bold","fontSize":29,"align":"left","baseline":"alphabetic","color":"black"},
 "encoding":{"x":{"field":"x","type":"quantitative"},"y":{"field":"v","type":"quantitative"},"text":{"field":"t"}}},
{"data":{"values":[{"x":1375,"v":938}]},
 "mark":{"type":"point","shape":"M-0.33,-1L0.33,-1L0.33,0.39L0.67,0.39L0,1L-0.67,0.39L-0.33,0.39Z","size":1296,"filled":true,"color":"black","opacity":1},
 "encoding":{"x":{"field":"x","type":"quantitative"},"y":{"field":"v","type":"quantitative"}}},
{"data":{"values":[{"x":1046,"v":917}]},
 "mark":{"type":"point","shape":"M0,-1L0.65,-0.3L0.3,-0.3L0.3,1L-0.3,1L-0.3,-0.3L-0.65,-0.3Z","size":1369,"filled":true,"color":"black","opacity":1},
 "encoding":{"x":{"field":"x","type":"quantitative"},"y":{"field":"v","type":"quantitative"}}}
]
}
]
}
